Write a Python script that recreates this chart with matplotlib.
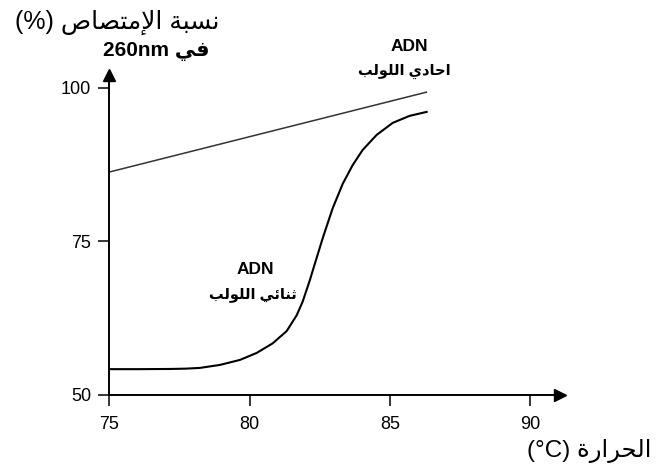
"""
منحنى انصهار ADN : نسبة الامتصاص في 260nm بدلالة درجة الحرارة
"""

import matplotlib.pyplot as plt

# ====== الخط ======
plt.rcParams['font.family'] = ['Liberation Sans', 'DejaVu Sans']

# ====== المعطيات (مقروءة من الشكل) ======
temp_mono = [75, 86.3]
abs_mono = [86.3, 99.3]

temp_double = [75, 76, 77.15, 77.7, 78.22, 78.94, 79.65, 80.25, 80.82, 81.32,
               81.68, 81.89, 82.14, 82.32, 82.61, 82.96, 83.32, 83.67, 84.03,
               84.53, 85.10, 85.70, 86.31]
abs_double = [54.2, 54.2, 54.23, 54.28, 54.4, 54.89, 55.7, 56.84, 58.4, 60.4,
              63.0, 65.2, 68.6, 71.3, 75.6, 80.4, 84.4, 87.4, 89.9,
              92.35, 94.3, 95.44, 96.09]

x_ticks = [75, 80, 85, 90]
y_ticks = [50, 75, 100]

# ====== تشكيل الحروف العربية (matplotlib لا يربط الحروف) ======
# (منفرد، نهائي، بدائي، وسطي)
FORMS = {
    'ا': ('\uFE8D', '\uFE8E', None, None),
    'أ': ('\uFE83', '\uFE84', None, None),
    'إ': ('\uFE87', '\uFE88', None, None),
    'ب': ('\uFE8F', '\uFE90', '\uFE91', '\uFE92'),
    'ة': ('\uFE93', '\uFE94', None, None),
    'ت': ('\uFE95', '\uFE96', '\uFE97', '\uFE98'),
    'ث': ('\uFE99', '\uFE9A', '\uFE9B', '\uFE9C'),
    'ح': ('\uFEA1', '\uFEA2', '\uFEA3', '\uFEA4'),
    'د': ('\uFEA9', '\uFEAA', None, None),
    'ر': ('\uFEAD', '\uFEAE', None, None),
    'س': ('\uFEB1', '\uFEB2', '\uFEB3', '\uFEB4'),
    'ص': ('\uFEB9', '\uFEBA', '\uFEBB', '\uFEBC'),
    'ف': ('\uFED1', '\uFED2', '\uFED3', '\uFED4'),
    'ل': ('\uFEDD', '\uFEDE', '\uFEDF', '\uFEE0'),
    'م': ('\uFEE1', '\uFEE2', '\uFEE3', '\uFEE4'),
    'ن': ('\uFEE5', '\uFEE6', '\uFEE7', '\uFEE8'),
    'و': ('\uFEED', '\uFEEE', None, None),
    'ي': ('\uFEF1', '\uFEF2', '\uFEF3', '\uFEF4'),
    'ئ': ('\uFE89', '\uFE8A', '\uFE8B', '\uFE8C'),
}
LAM_ALEF = {'ا': ('\uFEFB', '\uFEFC'), 'أ': ('\uFEF7', '\uFEF8'),
            'إ': ('\uFEF9', '\uFEFA')}


def ar(text):
    """يشكّل النص العربي ويقلبه للعرض من اليمين إلى اليسار"""
    out = []
    i = 0
    while i < len(text):
        c = text[i]
        if c not in FORMS:
            out.append(c)
            i += 1
            continue
        prev = text[i - 1] if i > 0 else ''
        joins_prev = prev in FORMS and FORMS[prev][2] is not None
        nxt = text[i + 1] if i + 1 < len(text) else ''
        if c == 'ل' and nxt in LAM_ALEF:
            out.append(LAM_ALEF[nxt][1 if joins_prev else 0])
            i += 2
            continue
        joins_next = FORMS[c][2] is not None and nxt in FORMS
        iso, fin, ini, med = FORMS[c]
        if joins_prev and joins_next:
            out.append(med)
        elif joins_prev:
            out.append(fin)
        elif joins_next:
            out.append(ini)
        else:
            out.append(iso)
        i += 1
    return ''.join(reversed(out))


# ====== الرسم ======
fig = plt.figure(figsize=(6.67, 4.73), dpi=100)
ax = fig.add_axes([0.164, 0.165, 0.675, 0.6765])

ax.plot(temp_mono, abs_mono, color='#333333', lw=1.1)
ax.plot(temp_double, abs_double, color='black', lw=1.5, solid_joinstyle='round')

ax.set_xlim(75, 91.05)
ax.set_ylim(50, 102.1)
ax.set_xticks(x_ticks)
ax.set_yticks(y_ticks)
ax.tick_params(axis='both', direction='out', length=8, width=1.1,
               labelsize=13, color='black')
ax.tick_params(axis='x', pad=7)
ax.tick_params(axis='y', pad=5)

for side in ['top', 'right']:
    ax.spines[side].set_visible(False)
for side in ['left', 'bottom']:
    ax.spines[side].set_linewidth(1.4)

# رؤوس الأسهم
ax.plot(1, 0, '>', color='black', ms=9, transform=ax.transAxes, clip_on=False)
ax.plot(0, 1, '^', color='black', ms=9, transform=ax.transAxes, clip_on=False)

# ====== النصوص ======
fig.text(0.022, 0.953, '(%) ' + ar('نسبة الإمتصاص'), fontsize=18,
         ha='left', va='center')
fig.text(0.155, 0.892, '260nm ' + ar('في'), fontsize=15, fontweight='bold',
         ha='left', va='center')
fig.text(0.79, 0.047, '(°C) ' + ar('الحرارة'), fontsize=17.5,
         ha='left', va='center')

ax.text(85.7, 106.7, 'ADN', fontsize=12.5, fontweight='bold', ha='center', va='center')
ax.text(85.5, 102.6, ar('احادي اللولب'), fontsize=10.5, fontweight='bold',
        ha='center', va='center')
ax.text(80.2, 70.5, 'ADN', fontsize=12.5, fontweight='bold', ha='center', va='center')
ax.text(80.1, 66.4, ar('ثنائي اللولب'), fontsize=10.5, fontweight='bold',
        ha='center', va='center')

plt.savefig('out.png', dpi=100)
